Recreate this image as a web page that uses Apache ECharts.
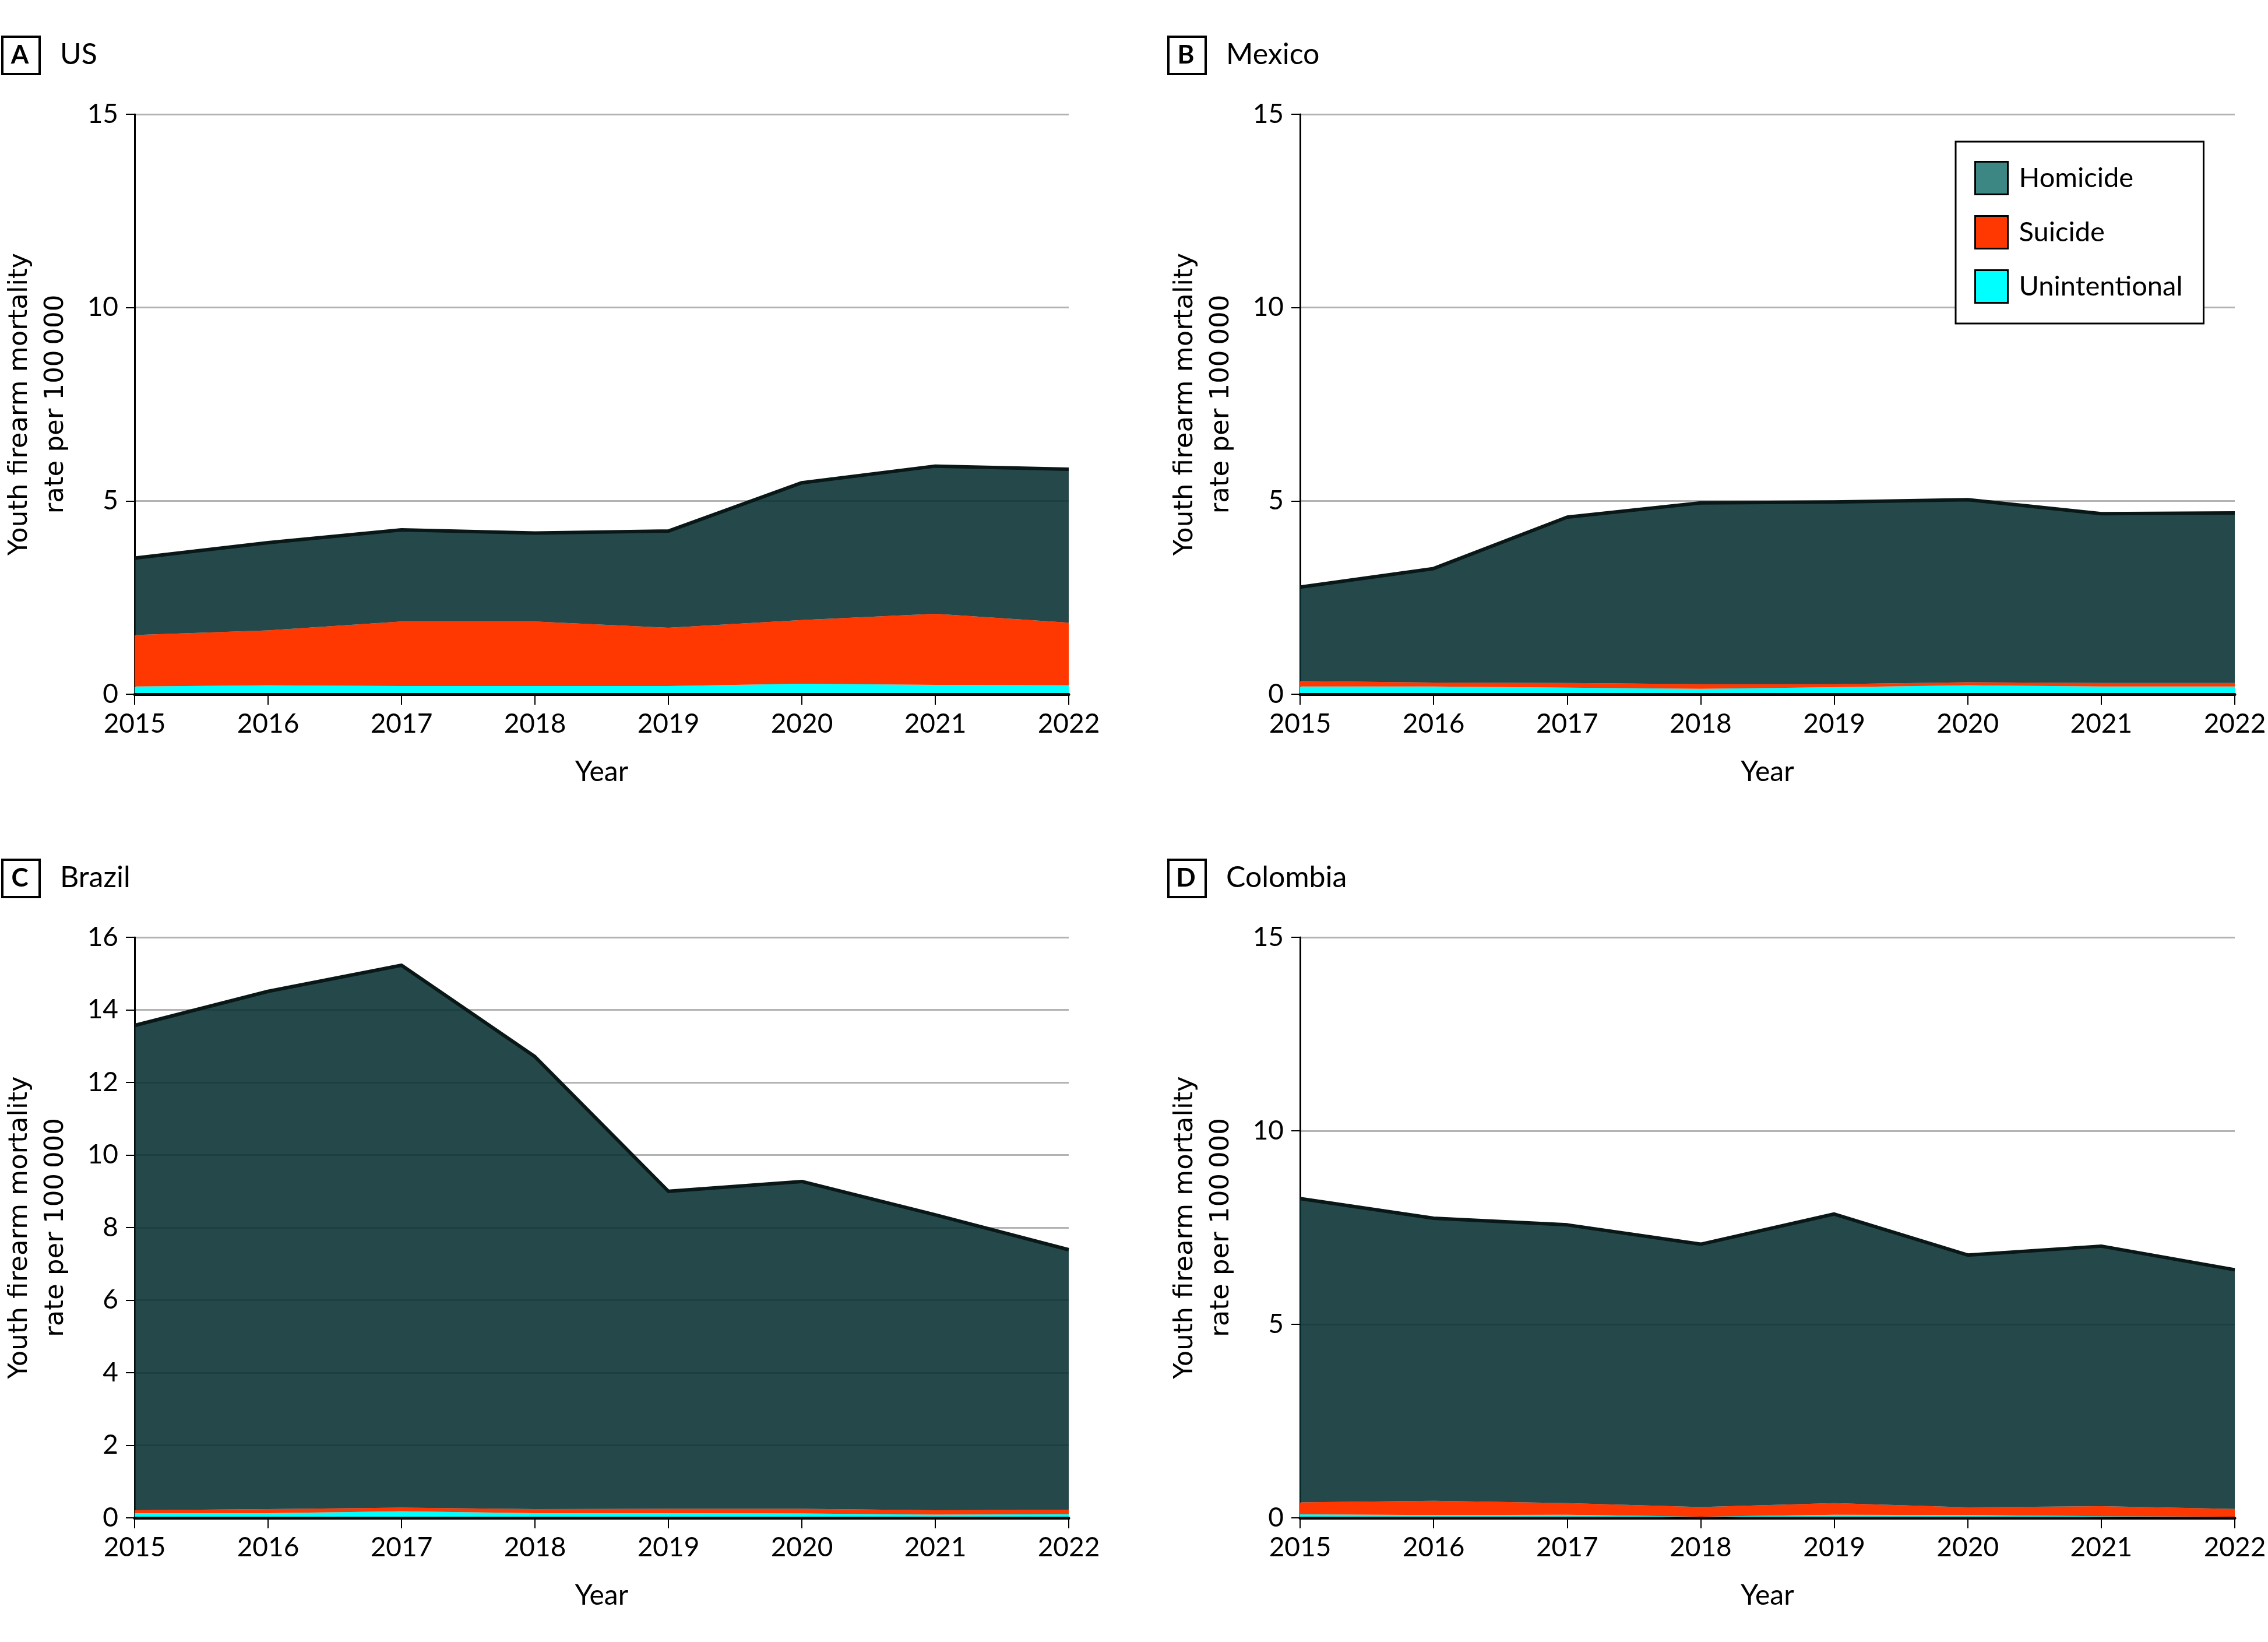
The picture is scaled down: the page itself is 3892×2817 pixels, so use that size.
<!DOCTYPE html>
<html>
<head>
<meta charset="utf-8">
<script src="https://cdn.jsdelivr.net/npm/echarts@6/dist/echarts.min.js"></script>
<style>
html,body{margin:0;padding:0;background:#fff;}
#chart{width:3892px;height:2817px;}
</style>
</head>
<body>
<div id="chart"></div>
<script>
// ---- Data (rate per 100 000) ----
const years = ['2015','2016','2017','2018','2019','2020','2021','2022'];

const usUnintentional = [0.20,0.23,0.21,0.21,0.21,0.27,0.24,0.23];
const usSuicide       = [1.33,1.42,1.67,1.67,1.51,1.65,1.84,1.62];
const usHomicide      = [1.99,2.27,2.37,2.29,2.50,3.55,3.82,3.97];

const mxUnintentional = [0.20,0.20,0.17,0.14,0.18,0.23,0.20,0.20];
const mxSuicide       = [0.14,0.10,0.12,0.12,0.08,0.08,0.09,0.09];
const mxHomicide      = [2.43,2.95,4.29,4.69,4.71,4.72,4.38,4.40];

const brUnintentional = [0.13,0.13,0.18,0.13,0.13,0.12,0.09,0.10];
const brSuicide       = [0.08,0.11,0.10,0.11,0.12,0.13,0.12,0.12];
const brHomicide      = [13.36,14.27,14.95,12.47,8.75,9.02,8.14,7.17];

const coUnintentional = [0.09,0.07,0.08,0.03,0.08,0.07,0.04,0.03];
const coSuicide       = [0.31,0.37,0.30,0.25,0.30,0.20,0.26,0.20];
const coHomicide      = [7.85,7.30,7.19,6.79,7.47,6.52,6.72,6.18];

const panelLetters = ['A','B','C','D'];
const panelNames   = ['US','Mexico','Brazil','Colombia'];
const yMax         = [15,15,16,15];
const yInterval    = [5,5,2,5];

// ---- Styling ----
const TICK_FONT = 'Lato';
const NAME_FONT = 'DejaVu Sans';
const colors = {
  Homicide: 'rgb(7,48,49)',
  Suicide: '#ff3700',
  Unintentional: '#00ffff'
};
const legendSwatch = {
  Homicide: '#3c8683',
  Suicide: '#ff3700',
  Unintentional: '#00ffff'
};

const panels = [
  {u: usUnintentional, s: usSuicide, h: usHomicide},
  {u: mxUnintentional, s: mxSuicide, h: mxHomicide},
  {u: brUnintentional, s: brSuicide, h: brHomicide},
  {u: coUnintentional, s: coSuicide, h: coHomicide}
];

const gridPos = [
  {left: 231,  top: 196,  width: 1603, height: 995},
  {left: 2231, top: 196,  width: 1604, height: 995},
  {left: 231,  top: 1608, width: 1603, height: 996},
  {left: 2231, top: 1608, width: 1604, height: 996}
];
const titlePos = [
  {bx: 2,    by: 61},
  {bx: 2003, by: 61},
  {bx: 2,    by: 1473},
  {bx: 2003, by: 1473}
];

const grids = [], xAxes = [], yAxes = [], series = [], graphics = [];

panels.forEach((p, i) => {
  grids.push(Object.assign({containLabel: false}, gridPos[i]));
  xAxes.push({
    type: 'category', gridIndex: i, data: years, boundaryGap: false, z: 10,
    axisLine: {show: true, lineStyle: {color: '#000', width: 5}},
    axisTick: {show: true, length: 18, alignWithLabel: true, lineStyle: {color: '#000', width: 2}},
    axisLabel: {fontFamily: TICK_FONT, fontSize: 46, color: '#000', margin: 28},
    splitLine: {show: false},
    name: 'Year', nameLocation: 'middle', nameGap: 110,
    nameTextStyle: {fontFamily: TICK_FONT, fontSize: 48, color: '#000'}
  });
  yAxes.push({
    type: 'value', gridIndex: i, min: 0, max: yMax[i], interval: yInterval[i],
    axisLine: {show: true, lineStyle: {color: '#000', width: 3}},
    axisTick: {show: true, length: 15, lineStyle: {color: '#000', width: 2}},
    axisLabel: {fontFamily: TICK_FONT, fontSize: 46, color: '#000', margin: 28},
    splitLine: {show: true, lineStyle: {color: '#b3b3b3', width: 3}},
    name: 'Youth firearm mortality\nrate per 100\u2009000',
    nameLocation: 'middle', nameGap: 104, nameRotate: 90,
    nameTextStyle: {fontFamily: NAME_FONT, fontSize: 45, lineHeight: 62, color: '#000', align: 'center'}
  });
  const stack = 'stack' + i;
  series.push({
    name: 'Unintentional', type: 'line', xAxisIndex: i, yAxisIndex: i, stack: stack,
    data: p.u, symbol: 'none', lineStyle: {width: 0}, silent: true,
    areaStyle: {color: colors.Unintentional, opacity: 1}, itemStyle: {color: colors.Unintentional}
  });
  series.push({
    name: 'Suicide', type: 'line', xAxisIndex: i, yAxisIndex: i, stack: stack,
    data: p.s, symbol: 'none', lineStyle: {width: 0}, silent: true,
    areaStyle: {color: colors.Suicide, opacity: 1}, itemStyle: {color: colors.Suicide}
  });
  series.push({
    name: 'Homicide', type: 'line', xAxisIndex: i, yAxisIndex: i, stack: stack,
    data: p.h, symbol: 'none', silent: true,
    lineStyle: {width: 6, color: '#0a1717', join: 'round'},
    areaStyle: {color: colors.Homicide, opacity: 0.88}, itemStyle: {color: colors.Homicide}
  });

  // panel title: boxed letter + country name
  const t = titlePos[i];
  graphics.push({
    type: 'rect', left: t.bx, top: t.by,
    shape: {width: 64, height: 64},
    style: {fill: '#fff', stroke: '#000', lineWidth: 4}
  });
  graphics.push({
    type: 'text', x: t.bx + 32, y: t.by + 34,
    style: {text: panelLetters[i], font: 'bold 44px Lato', fill: '#000', textAlign: 'center', textVerticalAlign: 'middle'}
  });
  graphics.push({
    type: 'text', x: t.bx + 101, y: t.by + 33,
    style: {text: panelNames[i], font: '50px Lato', fill: '#000', textAlign: 'left', textVerticalAlign: 'middle'}
  });
});

const option = {
  backgroundColor: '#fff',
  animation: false,
  grid: grids,
  xAxis: xAxes,
  yAxis: yAxes,
  series: series,
  graphic: graphics,
  legend: {
    show: true, orient: 'vertical', left: 3356, top: 243,
    selectedMode: false,
    icon: 'rect', itemWidth: 56, itemHeight: 56, itemGap: 34,
    padding: [33, 36, 34, 32],
    borderColor: '#000', borderWidth: 3, backgroundColor: '#fff',
    textStyle: {fontFamily: TICK_FONT, fontSize: 47, color: '#000', padding: [0, 0, 0, 14]},
    itemStyle: {borderColor: '#000', borderWidth: 3},
    data: [
      {name: 'Homicide', itemStyle: {color: legendSwatch.Homicide, borderColor: '#000', borderWidth: 3}},
      {name: 'Suicide', itemStyle: {color: legendSwatch.Suicide, borderColor: '#000', borderWidth: 3}},
      {name: 'Unintentional', itemStyle: {color: legendSwatch.Unintentional, borderColor: '#000', borderWidth: 3}}
    ]
  }
};

const chart = echarts.init(document.getElementById('chart'), null, {renderer: 'canvas'});
chart.setOption(option);
</script>
</body>
</html>
